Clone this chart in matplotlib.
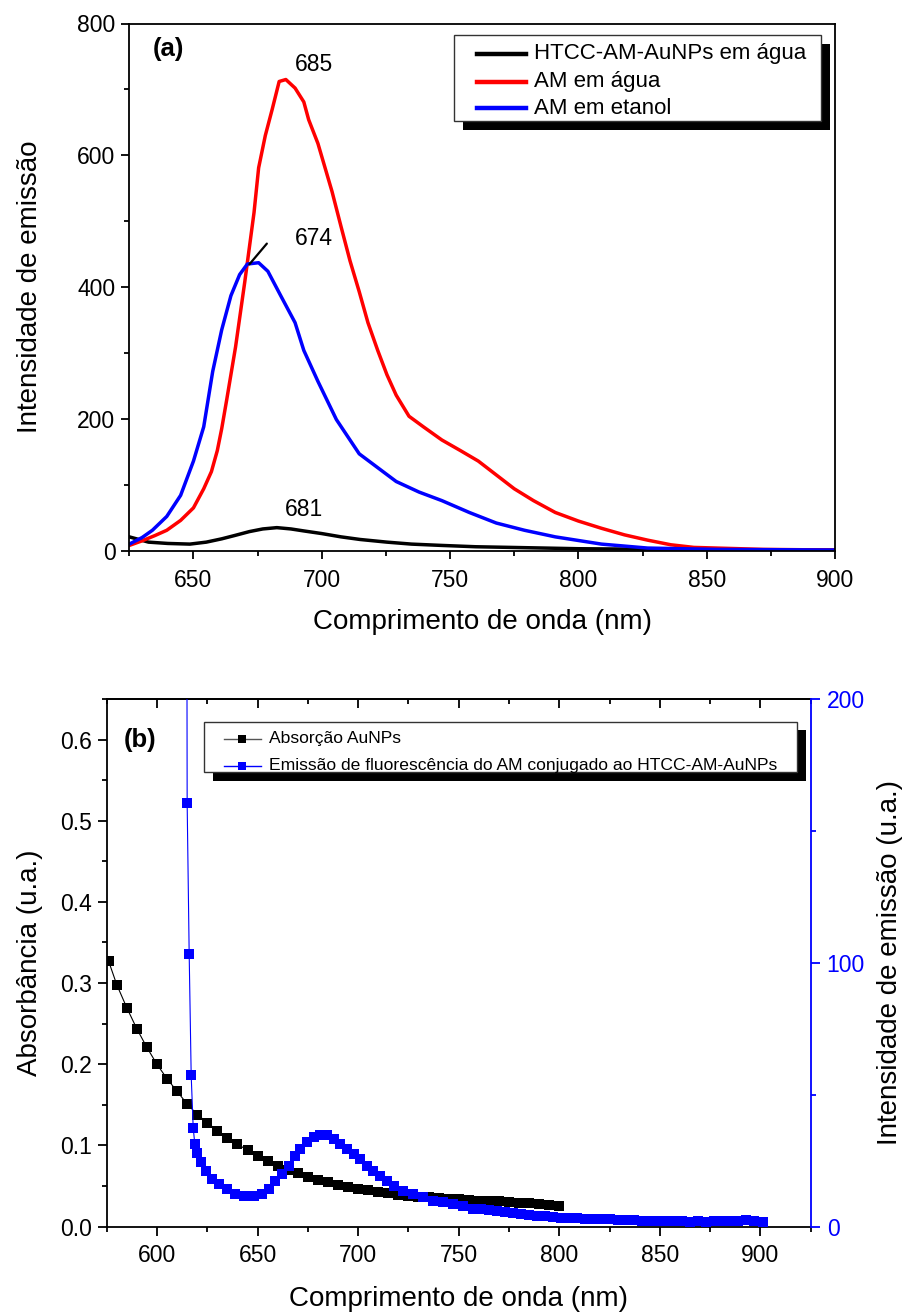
import matplotlib
matplotlib.use('Agg')
import matplotlib.pyplot as plt
from matplotlib.patches import Rectangle
from matplotlib.lines import Line2D
from matplotlib.ticker import MultipleLocator

plt.rcParams['font.family'] = ['Liberation Sans', 'DejaVu Sans']

# ---------------- data: panel (a) ----------------
wl_htcc = [625, 632.5, 640, 648.6, 655, 661, 666, 671.8, 677, 682.5, 688, 693, 700,
           707.5, 715, 725.4, 735, 746.8, 760, 773.6, 787, 800, 818, 836, 860, 880, 900]
int_htcc = [21, 13, 11, 10, 13, 18, 23, 29, 33, 35, 33, 30, 26,
            21, 17, 13, 10, 8, 6, 5, 4, 3, 2.5, 2, 1.5, 1, 1]

wl_agua = [625, 630, 635, 639.6, 645, 650, 654, 657, 659.3, 661, 663, 666.4, 670, 673.6,
           675.4, 678, 680.7, 683.4, 686, 689.6, 693, 694.9, 698.5, 704, 707.5, 711, 714.6,
           718, 721.8, 725.4, 729, 734, 739.6, 746.8, 754, 761, 768, 775, 782.5, 791, 800,
           809, 818, 827, 836, 845, 854, 872, 900]
int_agua = [8, 15, 23, 31, 46, 65, 94, 120, 152, 185, 230, 309, 408, 513,
            581, 630, 670, 712, 715, 702, 681, 654, 618, 545, 492, 440, 393,
            346, 304, 267, 236, 204, 188, 168, 152, 136, 115, 94, 76, 58, 45,
            34, 24, 16, 9, 5, 4, 2, 1]

wl_etanol = [625, 630, 634, 639.6, 645, 650, 654, 657.5, 661, 664.6, 668, 671, 675.4, 679,
             684, 689.6, 693, 698.5, 705.7, 714.6, 721.8, 729, 737.9, 746.8, 757.5, 768,
             779, 791, 809, 827, 854, 900]
int_etanol = [10, 20, 31, 52, 84, 136, 188, 272, 335, 387, 419, 435, 437, 424,
              387, 346, 304, 257, 199, 147, 126, 105, 89, 76, 58, 42,
              31, 21, 10, 4, 2, 1]

series_a = ['HTCC-AM-AuNPs em água', 'AM em água', 'AM em etanol']
colors_a = ['black', '#FF0000', '#0000FF']
peak_labels = ['685', '674', '681']

# ---------------- data: panel (b) ----------------
wl_abs = [576, 580, 585, 590, 595, 600, 605, 610, 615, 620, 625, 630, 635, 640, 645,
          650, 655, 660, 665, 670, 675, 680, 685, 690, 695, 700, 705, 710, 715, 720,
          725, 730, 735, 740, 745, 750, 755, 760, 765, 770, 775, 780, 785, 790, 795, 800]
absorb = [0.3266, 0.298, 0.2695, 0.2435, 0.2206, 0.1998, 0.1821, 0.1665, 0.151, 0.138,
          0.128, 0.118, 0.109, 0.1015, 0.094, 0.087, 0.081, 0.075, 0.0696, 0.0654,
          0.0613, 0.0573, 0.0544, 0.0515, 0.049, 0.0466, 0.045, 0.043, 0.0409, 0.0393,
          0.0377, 0.0368, 0.036, 0.0352, 0.0344, 0.0335, 0.0327, 0.032, 0.0315, 0.031,
          0.0302, 0.0295, 0.0285, 0.0275, 0.0265, 0.025]

wl_em = [614.5, 615.0, 616.0, 617.0, 618.0, 618.8, 619.7, 621.7, 624.2, 627.5, 630.8,
         634.9, 639.0, 643.2, 648.1, 652.3, 655.6, 658.9, 662.2, 665.5, 668.8, 671.3,
         674.6, 677.9, 681.2, 684.5, 687.8, 691.1, 694.4, 697.7, 701.0, 704.3, 707.6,
         710.9, 714.3, 717.6, 722.5, 727.5, 732.4, 737.4, 742.4, 747.3, 752.3, 757.2,
         761, 765, 769, 773, 777, 781, 785, 789, 793, 797, 801, 805, 809, 813, 817, 821,
         825, 829, 833, 837, 841, 845, 849, 853, 857, 861, 865, 869, 873, 877, 881, 885,
         889, 893, 897, 901.5]
em = [420, 160.5, 103.5, 57.4, 37.5, 31.3, 28, 24.3, 21.2, 18, 16.1,
      14.3, 12.4, 11.7, 11.7, 12.4, 14.3, 17.4, 19.9, 23, 26.8, 29.4,
      31.9, 33.8, 34.7, 34.7, 33.1, 31.3, 29.4, 27.5, 25.6, 23, 21.2,
      19.3, 17.4, 15.5, 13.6, 12.4, 11.1, 9.8, 9.2, 8.6, 7.9, 6.7,
      6.5, 6.3, 5.9, 5.4, 5.0, 4.7, 4.4, 4.1, 3.9, 3.6, 3.4, 3.2, 3.1, 3.0, 2.9, 2.8,
      2.7, 2.5, 2.4, 2.3, 2.2, 2.1, 2.0, 1.9, 1.9, 1.9, 1.8, 1.9, 1.8, 1.9, 1.9, 2.0,
      2.1, 2.6, 2.2, 1.6]

series_b = ['Absorção AuNPs', 'Emissão de fluorescência do AM conjugado ao HTCC-AM-AuNPs']

# ---------------- figure ----------------
W, H = 904, 1312
fig = plt.figure(figsize=(W / 100, H / 100), dpi=100)


def ax_rect(l, t, r, b):
    return [l / W, 1 - b / H, (r - l) / W, (b - t) / H]


def fx(x):
    return x / W


def fy(y):
    return 1 - y / H


TICK_FS = 16.5
LAB_FS = 20
SPW = 1.3

# ---------------- panel (a) ----------------
axA = fig.add_axes(ax_rect(129.3, 23.5, 835, 550.7))
for wl, it, c in zip([wl_htcc, wl_agua, wl_etanol], [int_htcc, int_agua, int_etanol], colors_a):
    axA.plot(wl, it, color=c, lw=2.5, solid_joinstyle='round')
axA.set_xlim(625, 900)
axA.set_ylim(0, 800)
axA.xaxis.set_major_locator(MultipleLocator(50))
axA.xaxis.set_minor_locator(MultipleLocator(25))
axA.yaxis.set_major_locator(MultipleLocator(200))
axA.yaxis.set_minor_locator(MultipleLocator(100))
axA.tick_params(which='both', direction='out', top=False, right=False, width=SPW,
                labelsize=TICK_FS)
axA.tick_params(which='major', length=6.0)
axA.tick_params(which='minor', length=3.6)
axA.tick_params(axis='x', pad=7)
axA.tick_params(axis='y', pad=4)
for s in axA.spines.values():
    s.set_linewidth(SPW)
axA.set_xlabel('Comprimento de onda (nm)', fontsize=LAB_FS, va='center')
axA.xaxis.set_label_coords(0.5, (550.7 - 622) / 527.2)
axA.set_ylabel('Intensidade de emissão', fontsize=LAB_FS, va='center')
axA.yaxis.set_label_coords((30 - 129.3) / 705.7, 0.5)

axA.text(697.1, 738, peak_labels[0], ha='center', va='center', fontsize=16.5)
axA.text(697.1, 474, peak_labels[1], ha='center', va='center', fontsize=16.5)
axA.text(692.9, 63, peak_labels[2], ha='center', va='center', fontsize=16.5)
axA.annotate('', xy=(671.8, 434.6), xytext=(678.6, 466),
             arrowprops=dict(arrowstyle='-', lw=1.6, color='black',
                             shrinkA=0, shrinkB=0))
axA.text(640.4, 762, '(a)', ha='center', va='center', fontsize=18.5, fontweight='bold')

# legend (a) with hard shadow
fig.patches.append(Rectangle((fx(463), fy(129.7)), fx(830) - fx(463), fy(44) - fy(129.7),
                             transform=fig.transFigure, facecolor='black',
                             edgecolor='none', zorder=4))
fig.patches.append(Rectangle((fx(454), fy(120.7)), fx(821) - fx(454), fy(35) - fy(120.7),
                             transform=fig.transFigure, facecolor='white',
                             edgecolor='#333333', lw=1.0, zorder=5))
for yrow, lab, c in zip([54, 81.7, 108.3], series_a, colors_a):
    fig.lines.append(Line2D([fx(477.3), fx(526)], [fy(yrow), fy(yrow)],
                            transform=fig.transFigure, color=c, lw=3.2, zorder=6))
    fig.text(fx(534), fy(yrow), lab, ha='left', va='center', fontsize=16, zorder=7)

# ---------------- panel (b) ----------------
axB = fig.add_axes(ax_rect(106.7, 699, 810.7, 1226.5))
axB.plot(wl_abs, absorb, color='black', marker='s', ms=7.4, mew=0, lw=0.8)
axB.set_xlim(575, 925)
axB.set_ylim(0, 0.65)
axB.xaxis.set_major_locator(MultipleLocator(50))
axB.xaxis.set_minor_locator(MultipleLocator(25))
axB.yaxis.set_major_locator(MultipleLocator(0.1))
axB.yaxis.set_minor_locator(MultipleLocator(0.05))
axB.tick_params(which='both', direction='out', top=False, right=False, width=SPW,
                labelsize=TICK_FS)
axB.tick_params(which='major', length=6.5)
axB.tick_params(which='minor', length=3.6)
axB.tick_params(axis='x', pad=6)
axB.tick_params(axis='y', pad=4)
for s in axB.spines.values():
    s.set_linewidth(SPW)
axB.spines['right'].set_visible(False)
axB.set_xlabel('Comprimento de onda (nm)', fontsize=LAB_FS, va='center')
axB.xaxis.set_label_coords(0.5, (1226.5 - 1299) / 527.5)
axB.set_ylabel('Absorbância (u.a.)', fontsize=LAB_FS, va='center')
axB.yaxis.set_label_coords((30 - 106.7) / 704, 0.5)
axB.text(591.4, 0.600, '(b)', ha='center', va='center', fontsize=18.5, fontweight='bold')

secB = axB.secondary_xaxis('top')
secB.xaxis.set_major_locator(MultipleLocator(50))
secB.xaxis.set_minor_locator(MultipleLocator(25))
secB.tick_params(which='both', direction='in', width=SPW, labeltop=False)
secB.tick_params(which='major', length=6.5)
secB.tick_params(which='minor', length=3.6)
secB.spines['top'].set_linewidth(SPW)

axB2 = axB.twinx()
axB2.plot(wl_em, em, color='#0000FF', marker='s', ms=7.6, mew=0, lw=0.8)
axB2.set_ylim(0, 200)
axB2.yaxis.set_major_locator(MultipleLocator(100))
axB2.yaxis.set_minor_locator(MultipleLocator(50))
for k in ['left', 'top', 'bottom']:
    axB2.spines[k].set_visible(False)
axB2.spines['right'].set_color('#0000FF')
axB2.spines['right'].set_linewidth(SPW)
axB2.tick_params(axis='y', which='both', direction='out', colors='#0000FF', width=SPW,
                 labelsize=TICK_FS, pad=5)
axB2.tick_params(axis='y', which='major', length=6.5)
axB2.tick_params(axis='y', which='minor', length=3.6)
axB2.set_ylabel('Intensidade de emissão (u.a.)', fontsize=LAB_FS, va='center', color='black')
axB2.yaxis.set_label_coords((890 - 106.7) / 704, 0.5)

# legend (b) with hard shadow
fig.patches.append(Rectangle((fx(213), fy(781)), fx(805.5) - fx(213), fy(730.5) - fy(781),
                             transform=fig.transFigure, facecolor='black',
                             edgecolor='none', zorder=4))
fig.patches.append(Rectangle((fx(204.5), fy(772)), fx(797) - fx(204.5), fy(721.5) - fy(772),
                             transform=fig.transFigure, facecolor='white',
                             edgecolor='#333333', lw=1.0, zorder=5))
for yrow, lab, c, lc in zip([738.7, 765.5], series_b, ['black', '#0000FF'], ['#555555', '#0000FF']):
    fig.lines.append(Line2D([fx(223.7), fx(260.5)], [fy(yrow), fy(yrow)],
                            transform=fig.transFigure, color=lc, lw=1.0, zorder=6))
    fig.lines.append(Line2D([fx(242.1)], [fy(yrow)], transform=fig.transFigure,
                            color=c, marker='s', ms=6.2, mew=0, ls='none', zorder=6))
    fig.text(fx(268.9), fy(yrow), lab, ha='left', va='center', fontsize=12.6, zorder=7)

fig.savefig('out.png', dpi=100)
